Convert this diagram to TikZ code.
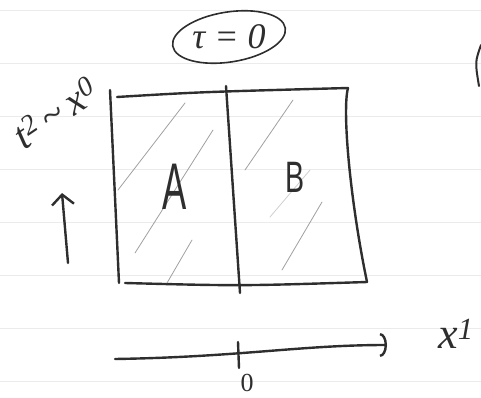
\documentclass[tikz,border=0pt]{standalone}
\usepackage{fontspec}
\setmainfont{Liberation Serif}
\setsansfont{Liberation Sans}
\usepackage{tikz}
\usetikzlibrary{positioning,arrows.meta,calc}
\definecolor{inkc}{HTML}{2E2E2E}
\definecolor{hatchc}{HTML}{A0A0A0}
\definecolor{rulec}{HTML}{EBEBEB}
\tikzset{
  ink/.style={draw=inkc, line width=2.4pt, line cap=round, line join=round},
  hatch/.style={draw=hatchc, line width=0.8pt, line cap=round},
  rule/.style={draw=rulec, line width=0.8pt},
  lbl/.style={text=inkc, inner sep=0pt},
  arr/.style={ink, -{Straight Barb[length=10pt, width=22pt]}},
  xarr/.style={ink, -{Arc Barb[length=7pt, width=24pt]}},
}

\begin{document}
\begin{tikzpicture}[x=1pt, y=-1pt]
  \useasboundingbox (0,0) rectangle (481,398);
  % ruled paper
  \foreach \y in {10,63,116,169,222,275,328,381} \draw[rule] (0,\y) -- (481,\y);

  % box corners and divider
  \coordinate (tl) at (110,90);
  \coordinate (bl) at (119,283);
  \coordinate (tt) at (117,97);
  \coordinate (tr) at (348,88);
  \coordinate (br) at (367,282);
  \coordinate (bb) at (125,283);
  \coordinate (dt) at (226,86);
  \coordinate (db) at (240,293);

  \draw[ink] (tl) -- (bl);
  \draw[ink] (tt) .. controls (200,92) .. (tr);
  \draw[ink] (tr) .. controls (342,110) and (350,200) .. (br);
  \draw[ink] (bb) .. controls (240,286) .. (br);
  \draw[ink] (dt) -- (db);

  % hatching
  \draw[hatch] (185,103) -- (118,190);
  \draw[hatch] (213,130) -- (135,253);
  \draw[hatch] (192,240) -- (167,283);
  \draw[hatch] (293,100) -- (245,170);
  \draw[hatch, draw=hatchc!50] (310,170) -- (270,217);
  \draw[hatch] (322,202) -- (282,270);

  \node[lbl, font={\fontsize{66}{68}\selectfont\sffamily}] (regA) at (175,187) {\scalebox{0.55}[1]{A}};
  \node[lbl, font={\fontsize{44}{48}\selectfont\sffamily}] (regB) at (295,177) {\scalebox{0.65}[1]{B}};

  % time label
  \node[lbl, font={\fontsize{36}{38}\selectfont\itshape}] (tau) at (229,37) {τ = 0};
  \draw[ink, line width=1.6pt] (tau) ellipse [x radius=57, y radius=25, rotate=9];

  \node[lbl, rotate=34, font={\fontsize{40}{42}\selectfont\itshape}] (tlab) at (55,113)
    {t\textsuperscript{2}\,\textasciitilde\,x\textsuperscript{0}};
  \coordinate (ua) at (68,263);
  \coordinate (ub) at (62,193);
  \draw[arr] (ua) -- (ub);

  % space axis
  \coordinate (xa) at (115,359);
  \coordinate (xb) at (387,345);
  \draw[xarr] (xa) .. controls (240,357) and (300,345) .. (xb);
  \coordinate (tk1) at (238,342);
  \coordinate (tk2) at (239,368);
  \draw[ink] (tk1) -- (tk2);
  \node[lbl, font={\fontsize{26}{28}\selectfont}] (zero) at (247,383) {0};
  \node[lbl, font={\fontsize{44}{46}\selectfont\itshape}] (xlab) at (456,334) {x\textsuperscript{1}};

  \draw[ink, line width=2pt] (481,45) .. controls (475,62) .. (479,86);
\end{tikzpicture}
\end{document}
